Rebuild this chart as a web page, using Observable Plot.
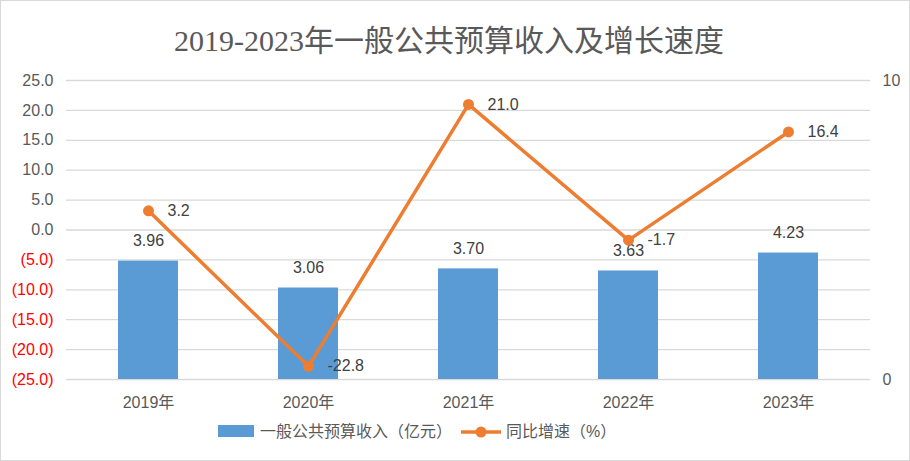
<!DOCTYPE html>
<html>
<head>
<meta charset="utf-8">
<script src="https://cdn.jsdelivr.net/npm/d3@7"></script>
<script src="https://cdn.jsdelivr.net/npm/@observablehq/plot@0.6"></script>
<style>
  html, body { margin: 0; padding: 0; background: #fff; }
  #wrap { position: relative; width: 908px; height: 459px; border: 1px solid #d9d9d9; overflow: hidden; background: #fff; }
  #title { position: absolute; left: 0; width: 896px; top: 22px; text-align: center; font-family: "Liberation Serif", "DejaVu Serif", "Noto Sans CJK SC", serif; font-size: 30px; line-height: 36px; color: #595959; white-space: nowrap; }
  #chart { position: absolute; left: 0; top: 60px; }
  #legend { position: absolute; top: 420px; left: 0; width: 908px; height: 22px; font-family: "Liberation Sans", "Noto Sans CJK SC", sans-serif; font-size: 16px; color: #595959; }
  .lg { position: absolute; top: 0; line-height: 22px; white-space: nowrap; }
</style>
</head>
<body>
<div id="wrap">
  <div id="title">2019-2023年一般公共预算收入及增长速度</div>
  <div id="chart"></div>
  <div id="legend">
    <div class="lg" style="left:217px;top:4px;width:36px;height:12px;background:#5B9BD5;"></div>
    <div class="lg" style="left:259px;">一般公共预算收入（亿元）</div>
    <svg class="lg" style="left:459px;top:0;" width="42" height="22"><line x1="1" y1="11" x2="41" y2="11" stroke="#ED7D31" stroke-width="3.5"/><circle cx="21" cy="11" r="5.5" fill="#ED7D31"/></svg>
    <div class="lg" style="left:505px;">同比增速（%）</div>
  </div>
</div>
<script>
const years = ["2019年", "2020年", "2021年", "2022年", "2023年"];
const revenue = [3.96, 3.06, 3.70, 3.63, 4.23];
const growth = [3.2, -22.8, 21.0, -1.7, 16.4];
const leftTicks = [25, 20, 15, 10, 5, 0, -5, -10, -15, -20, -25];
const rightTicks = [0, 10];
const leftDomain = [-25, 25];
const rightDomain = [0, 10];

// map right-axis values onto the left scale
const toLeft = v => leftDomain[0] + (v - rightDomain[0]) * (leftDomain[1] - leftDomain[0]) / (rightDomain[1] - rightDomain[0]);
const toRight = v => rightDomain[0] + (v - leftDomain[0]) * (rightDomain[1] - rightDomain[0]) / (leftDomain[1] - leftDomain[0]);

const data = years.map((y, i) => ({year: y, rev: revenue[i], g: growth[i]}));
const fmtLeft = d => d < 0 ? "(" + Math.abs(d).toFixed(1) + ")" : d.toFixed(1);

const plot = Plot.plot({
  width: 908,
  height: 350,
  marginLeft: 65,
  marginRight: 39,
  marginTop: 19,
  marginBottom: 32,
  style: {fontFamily: "'Liberation Sans', 'Noto Sans CJK SC', sans-serif", fontSize: "16px", color: "#595959", background: "transparent"},
  x: {domain: years, paddingInner: 0.625, paddingOuter: 0.3125},
  y: {domain: leftDomain},
  marks: [
    Plot.ruleY(leftTicks, {stroke: "#d9d9d9", strokeWidth: 1.3}),
    Plot.axisY(leftTicks.filter(d => d >= 0), {anchor: "left", tickSize: 0, tickPadding: 13, tickFormat: fmtLeft, fill: "#595959", fontSize: 16, label: null}),
    Plot.axisY(leftTicks.filter(d => d < 0), {anchor: "left", tickSize: 0, tickPadding: 13, tickFormat: fmtLeft, fill: "#ff0000", fontSize: 16, label: null}),
    Plot.axisY(rightTicks.map(toLeft), {anchor: "right", tickSize: 0, tickPadding: 12, tickFormat: d => String(Math.round(toRight(d))), fill: "#595959", fontSize: 16, label: null}),
    Plot.axisX({tickSize: 0, tickPadding: 17, fill: "#595959", fontSize: 16, label: null}),
    Plot.barY(data, {x: "year", y1: leftDomain[0], y2: d => toLeft(d.rev), fill: "#5B9BD5"}),
    Plot.text(data, {x: "year", y: d => toLeft(d.rev), text: d => d.rev.toFixed(2), dy: -20, fill: "#404040", fontSize: 16}),
    Plot.line(data, {x: "year", y: "g", stroke: "#ED7D31", strokeWidth: 3.5, strokeLinejoin: "round"}),
    Plot.dot(data, {x: "year", y: "g", r: 5.5, fill: "#ED7D31", stroke: null}),
    Plot.text(data, {x: "year", y: "g", text: d => d.g.toFixed(1), dx: 19, textAnchor: "start", fill: "#404040", fontSize: 16})
  ]
});
document.getElementById("chart").appendChild(plot);
</script>
</body>
</html>
